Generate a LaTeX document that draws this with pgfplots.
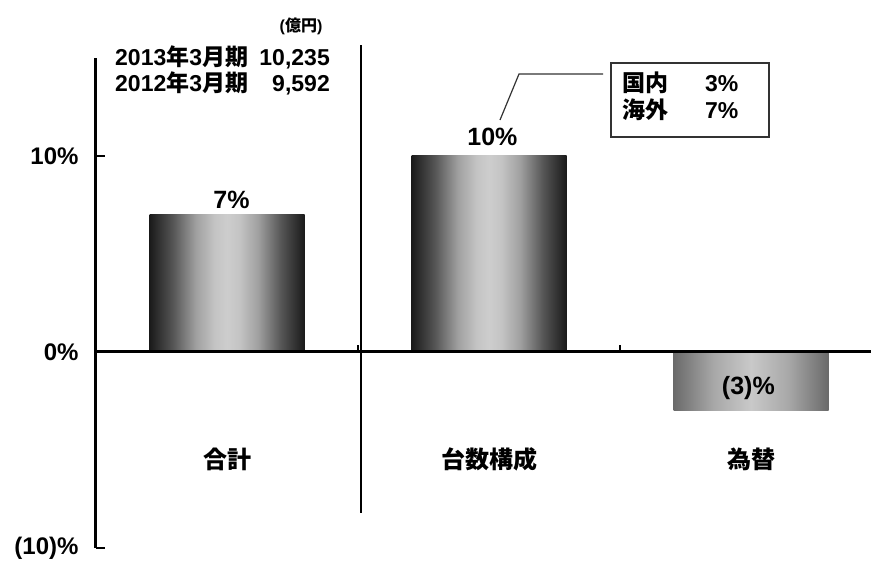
\documentclass[border=0pt]{standalone}
\usepackage{pgfplots}
\pgfplotsset{compat=1.18}
\usepackage{fontspec}
\setmainfont{Liberation Sans}
\newfontfamily\cjk{Noto Sans CJK JP}
\definecolor{edgeA}{HTML}{1A1A1A}
\definecolor{qA}{HTML}{555555}
\definecolor{hA}{HTML}{A0A0A0}
\definecolor{nA}{HTML}{C4C4C4}
\definecolor{midA}{HTML}{CDCDCD}
\definecolor{edgeB}{HTML}{6A6A6A}
\definecolor{hB}{HTML}{A8A8A8}
\definecolor{midB}{HTML}{C9C9C9}
\definecolor{boxgray}{HTML}{333333}
\pgfdeclarehorizontalshading{barA}{100bp}{color(0bp)=(edgeA); color(25bp)=(edgeA); color(32.5bp)=(qA); color(40bp)=(hA); color(46bp)=(nA); color(50bp)=(midA); color(54bp)=(nA); color(60bp)=(hA); color(67.5bp)=(qA); color(75bp)=(edgeA); color(100bp)=(edgeA)}
\pgfdeclarehorizontalshading{barB}{100bp}{color(0bp)=(edgeB); color(25bp)=(edgeB); color(38bp)=(hB); color(50bp)=(midB); color(62bp)=(hB); color(75bp)=(edgeB); color(100bp)=(edgeB)}
\newcommand\fs[1]{\fontsize{#1bp}{#1bp}\selectfont\bfseries}
% pixel position (reference image coordinates) relative to axis top-left (96,58)
\newcommand\px[2]{([shift={(#1bp-96bp,58bp-#2bp)}]TL)}
\begin{document}
\begin{tikzpicture}
\begin{axis}[
  scale only axis, width=775bp, height=490bp,
  xmin=-0.5, xmax=2.458, ymin=-10, ymax=15,
  axis y line=left, axis x line=none,
  y axis line style={-, line width=3bp},
  ytick={-10,0,10}, yticklabels={(10)\%,0\%,10\%},
  ytick style={line width=1.5bp, black},
  tick align=inside, major tick length=9bp,
  yticklabel style={font=\fs{24}, xshift=-14bp},
  clip=false,
]
\addplot[ybar, bar width=155bp, bar shift=0pt, draw=none, shading=barA] coordinates {(0,7)};
\addplot[ybar, bar width=155bp, bar shift=0pt, draw=none, shading=barA] coordinates {(1,10)};
\addplot[ybar, bar width=155bp, bar shift=0pt, draw=none, shading=barB] coordinates {(2,-3)};

\draw[line width=3bp] (axis cs:-0.5,0) -- (axis cs:2.458,0);
\draw[line width=1.5bp] (axis cs:0.5,0) -- ([yshift=7bp]axis cs:0.5,0);
\draw[line width=1.5bp] (axis cs:1.5,0) -- ([yshift=7bp]axis cs:1.5,0);
\draw[line width=2.2bp] (axis cs:0.51,15.66) -- (axis cs:0.51,-8.2);

\node[anchor=base, font=\fs{25}, inner sep=0] at ([yshift=6bp]axis cs:0.017,7) {7\%};
\node[anchor=base, font=\fs{25}, inner sep=0] at ([yshift=10bp]axis cs:1.013,10) {10\%};
\node[anchor=base, font=\fs{25}, inner sep=0] at (axis cs:1.99,-2.19) {(3)\%};

\node[font=\fs{24}\cjk, inner sep=0] at (axis cs:0,-5.46) {合計};
\node[font=\fs{24}\cjk, inner sep=0] at (axis cs:1,-5.46) {台数構成};
\node[font=\fs{24}\cjk, inner sep=0] at (axis cs:2,-5.46) {為替};

\coordinate (TL) at (rel axis cs:0,1);
\coordinate (BL) at (rel axis cs:0,0);
\end{axis}
\pgfresetboundingbox
\path ([shift={(-96bp,-15bp)}]BL) rectangle ++(871bp,563bp);

% unit note
\node[anchor=base, font=\fs{16}, inner sep=0] at \px{301}{32} {({\cjk 億円})};
% totals
\node[anchor=base west, font=\fs{23}, inner sep=0] at \px{115}{66} {2013{\cjk 年}3{\cjk 月期}};
\node[anchor=base east, font=\fs{23}, inner sep=0] at \px{330}{66} {10,235};
\node[anchor=base west, font=\fs{23}, inner sep=0] at \px{115}{92} {2012{\cjk 年}3{\cjk 月期}};
\node[anchor=base east, font=\fs{23}, inner sep=0] at \px{330}{92} {9,592};
% callout
\draw[boxgray, line width=1.5bp] \px{611}{63} rectangle \px{769}{137};
\draw[boxgray, line width=1.2bp] \px{500}{120} -- \px{519}{74} -- \px{603}{74};
\node[anchor=base west, font=\fs{23}\cjk, inner sep=0] at \px{622}{92} {国内};
\node[anchor=base west, font=\fs{23}, inner sep=0] at \px{705}{92} {3\%};
\node[anchor=base west, font=\fs{23}\cjk, inner sep=0] at \px{622}{119} {海外};
\node[anchor=base west, font=\fs{23}, inner sep=0] at \px{705}{119} {7\%};
\end{tikzpicture}
\end{document}
